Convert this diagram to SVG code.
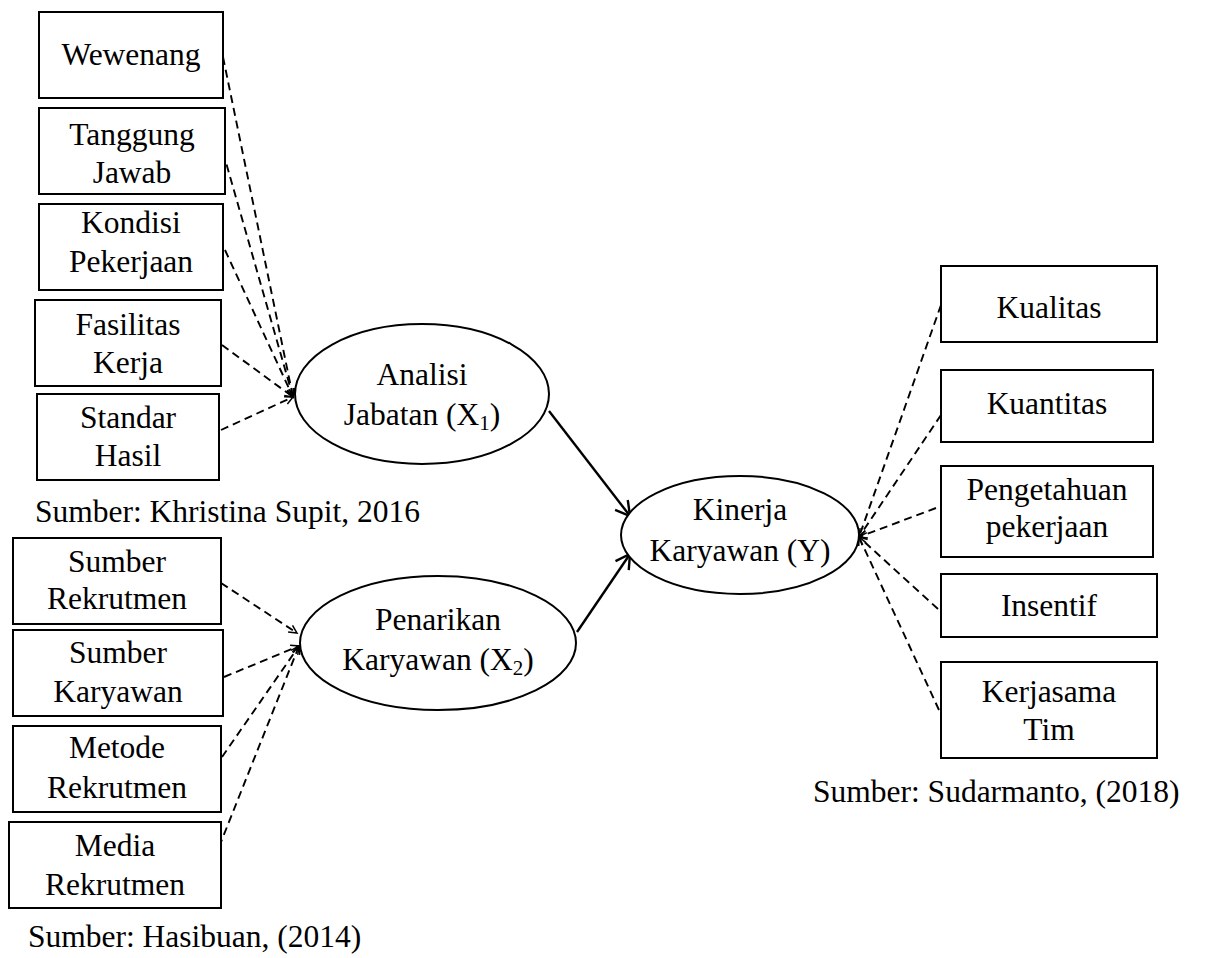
<svg xmlns="http://www.w3.org/2000/svg" width="1205" height="958" viewBox="0 0 1205 958">
<defs>
<style>
.box{fill:#fff;stroke:#000;stroke-width:2}
.ell{fill:#fff;stroke:#000;stroke-width:2}
.t{font-family:"Liberation Serif","Times New Roman",serif;font-size:31.5px;fill:#000;text-anchor:middle}
.src{font-family:"Liberation Serif","Times New Roman",serif;font-size:31.5px;fill:#000}
.dash{fill:none;stroke:#000;stroke-width:1.9;stroke-dasharray:8,5;marker-end:url(#sm)}
.solid{fill:none;stroke:#000;stroke-width:2.4;marker-end:url(#big)}
.sub{font-size:21px}
</style>
<marker id="sm" markerUnits="userSpaceOnUse" markerWidth="12" markerHeight="12" refX="9" refY="5" orient="auto">
<path d="M1,1 L9,5 L1,9" fill="none" stroke="#000" stroke-width="1.5"/>
</marker>
<marker id="big" markerUnits="userSpaceOnUse" markerWidth="20" markerHeight="20" refX="16" refY="9" orient="auto">
<path d="M2,1 L16,9 L2,17" fill="none" stroke="#000" stroke-width="2.4"/>
</marker>
</defs>
<rect width="1205" height="958" fill="#fff"/>

<g id="connectors">
<line class="dash" x1="223" y1="57" x2="293" y2="397"/>
<line class="dash" x1="223" y1="152" x2="293" y2="397"/>
<line class="dash" x1="225" y1="250" x2="293" y2="397"/>
<line class="dash" x1="222" y1="345" x2="293" y2="397"/>
<line class="dash" x1="221" y1="430" x2="293" y2="397"/>
<line class="dash" x1="221" y1="583" x2="297" y2="633"/>
<line class="dash" x1="224" y1="677" x2="299" y2="646"/>
<line class="dash" x1="222" y1="757" x2="299" y2="646"/>
<line class="dash" x1="219" y1="847" x2="299" y2="646"/>
<line class="dash" x1="941" y1="305" x2="859" y2="537"/>
<line class="dash" x1="941" y1="415" x2="859" y2="537"/>
<line class="dash" x1="936" y1="508" x2="859" y2="537"/>
<line class="dash" x1="938" y1="609" x2="859" y2="537"/>
<line class="dash" x1="939" y1="710" x2="859" y2="537"/>
<line class="solid" x1="549" y1="411" x2="630" y2="516"/>
<line class="solid" x1="577" y1="632" x2="630" y2="554"/>
</g>

<g id="n-wewenang"><rect class="box" x="39" y="12" width="184" height="86"/><text class="t" x="131" y="65">Wewenang</text></g>
<g id="n-tanggung"><rect class="box" x="39" y="108" width="186" height="86"/><text class="t" x="132" y="145">Tanggung</text><text class="t" x="132" y="183">Jawab</text></g>
<g id="n-kondisi"><rect class="box" x="39" y="204" width="184" height="86"/><text class="t" x="131" y="233">Kondisi</text><text class="t" x="131" y="272">Pekerjaan</text></g>
<g id="n-fasilitas"><rect class="box" x="35" y="300" width="186" height="86"/><text class="t" x="128" y="335">Fasilitas</text><text class="t" x="128" y="373">Kerja</text></g>
<g id="n-standar"><rect class="box" x="37" y="394" width="182" height="86"/><text class="t" x="128" y="428">Standar</text><text class="t" x="128" y="466">Hasil</text></g>
<g id="src-1"><text class="src" x="35" y="522">Sumber: Khristina Supit, 2016</text></g>

<g id="n-sumber-rekrutmen"><rect class="box" x="13" y="538" width="208" height="86"/><text class="t" x="117" y="572">Sumber</text><text class="t" x="117" y="609">Rekrutmen</text></g>
<g id="n-sumber-karyawan"><rect class="box" x="13" y="630" width="210" height="86"/><text class="t" x="118" y="663">Sumber</text><text class="t" x="118" y="702">Karyawan</text></g>
<g id="n-metode"><rect class="box" x="13" y="726" width="208" height="86"/><text class="t" x="117" y="758">Metode</text><text class="t" x="117" y="798">Rekrutmen</text></g>
<g id="n-media"><rect class="box" x="9" y="822" width="212" height="86"/><text class="t" x="115" y="856">Media</text><text class="t" x="115" y="895">Rekrutmen</text></g>
<g id="src-2"><text class="src" x="28" y="947">Sumber: Hasibuan, (2014)</text></g>

<g id="n-x1"><ellipse class="ell" cx="422" cy="394" rx="127" ry="70"/><text class="t" x="422" y="385">Analisi</text><text class="t" x="422" y="425">Jabatan (X<tspan class="sub" dy="5">1</tspan><tspan dy="-5">)</tspan></text></g>
<g id="n-x2"><ellipse class="ell" cx="438" cy="643" rx="138" ry="67"/><text class="t" x="438" y="630">Penarikan</text><text class="t" x="438" y="670">Karyawan (X<tspan class="sub" dy="5">2</tspan><tspan dy="-5">)</tspan></text></g>
<g id="n-y"><ellipse class="ell" cx="740" cy="535" rx="119" ry="59"/><text class="t" x="740" y="520">Kinerja</text><text class="t" x="740" y="561">Karyawan (Y)</text></g>

<g id="n-kualitas"><rect class="box" x="941" y="266" width="216" height="76"/><text class="t" x="1049" y="318">Kualitas</text></g>
<g id="n-kuantitas"><rect class="box" x="941" y="370" width="212" height="72"/><text class="t" x="1047" y="414">Kuantitas</text></g>
<g id="n-pengetahuan"><rect class="box" x="941" y="466" width="212" height="91"/><text class="t" x="1047" y="500">Pengetahuan</text><text class="t" x="1047" y="537">pekerjaan</text></g>
<g id="n-insentif"><rect class="box" x="941" y="574" width="216" height="63"/><text class="t" x="1049" y="616">Insentif</text></g>
<g id="n-kerjasama"><rect class="box" x="941" y="662" width="216" height="96"/><text class="t" x="1049" y="702">Kerjasama</text><text class="t" x="1049" y="740">Tim</text></g>
<g id="src-3"><text class="src" x="813" y="802">Sumber: Sudarmanto, (2018)</text></g>
</svg>
